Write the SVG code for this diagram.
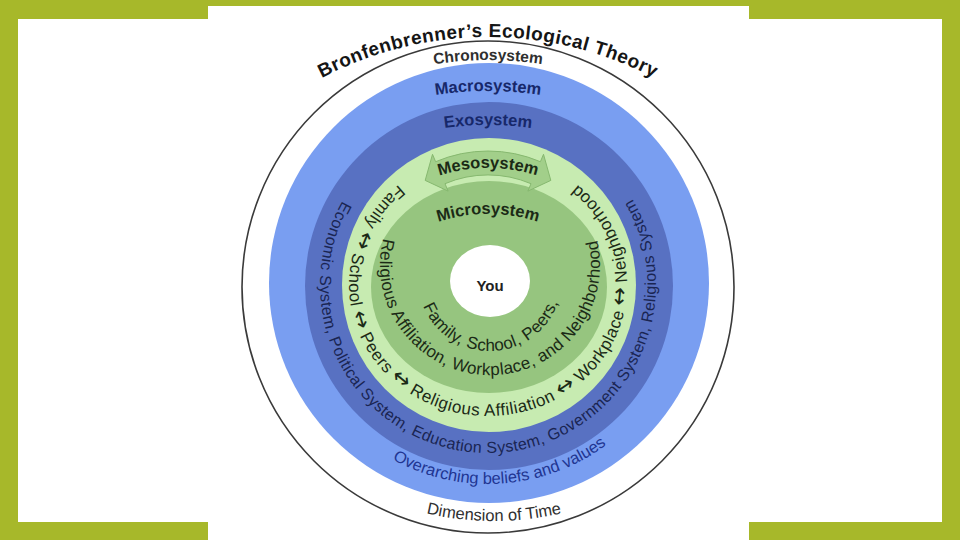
<svg xmlns="http://www.w3.org/2000/svg" xmlns:xlink="http://www.w3.org/1999/xlink" width="960" height="540" viewBox="0 0 960 540">
<style>
  text{font-family:"Liberation Sans",Arial,"DejaVu Sans",sans-serif}
  .title{font-size:19px;font-weight:bold;fill:#151515;letter-spacing:0.5px}
  .lab{font-weight:bold;font-size:16.5px}
  .navy{fill:#17286a}
  .gray{fill:#2f2f2f}
  .dg{fill:#1b2a16}
  .ring{font-size:16px}
  .arr{font-size:22px;font-family:"DejaVu Sans",sans-serif}
</style>
<defs>
  <path id="p-title" d="M 309 85 A 358 358 0 0 1 667 85"/>
  <path id="p-chrono" d="M 313 106.9 A 350 350 0 0 1 663 106.9"/>
  <path id="p-macro" d="M 313 137.9 A 350 350 0 0 1 663 137.9"/>
  <path id="p-exo" d="M 338 165.2 A 300 300 0 0 1 638 165.2"/>
  <path id="p-meso" d="M 408 189.4 A 160 160 0 0 1 568 189.4"/>
  <path id="p-micro" d="M 396.2 242.9 A 160 160 0 0 1 579.8 242.9"/>
  <path id="p-time" d="M 234.2 371 A 300 300 0 0 0 753.8 371"/>
  <path id="p-over" d="M 289 285 A 199 199 0 0 0 687 285"/>
  <path id="p-exoring" d="M 342.5 201 A 168 168 0 1 0 632 198.5"/>
  <path id="p-mesoring" d="M 398.7 184.7 A 139 131 0 1 0 573.6 181.8"/>
  <path id="p-micro1" d="M 383.3 238.4 A 110 110 0 1 0 596.7 238.4"/>
  <path id="p-micro2" d="M 423.2 306 A 72 72 0 0 0 558.5 301.2"/>
</defs>

<rect x="0" y="0" width="960" height="540" fill="#a7b82a"/>
<rect x="18" y="19" width="924" height="503" fill="#ffffff"/>
<rect x="208" y="6" width="541" height="534" fill="#ffffff"/>

<g id="chronosystem">
  <circle cx="488" cy="287" r="246" fill="none" stroke="#3a3a3a" stroke-width="1.6"/>
  <text class="title"><textPath xlink:href="#p-title" href="#p-title" startOffset="50%" text-anchor="middle">Bronfenbrenner’s Ecological Theory</textPath></text>
  <text class="gray" font-size="15.5" font-weight="bold"><textPath href="#p-chrono" xlink:href="#p-chrono" startOffset="50%" text-anchor="middle">Chronosystem</textPath></text>
  <text class="gray" font-size="16.5"><textPath href="#p-time" xlink:href="#p-time" startOffset="50%" text-anchor="middle">Dimension of Time</textPath></text>
</g>

<g id="macrosystem">
  <circle cx="489" cy="283" r="220" fill="#799ef1"/>
  <text class="lab navy"><textPath href="#p-macro" xlink:href="#p-macro" startOffset="50%" text-anchor="middle">Macrosystem</textPath></text>
  <text font-size="16.5" style="fill:#213592"><textPath href="#p-over" xlink:href="#p-over" startOffset="326" text-anchor="middle">Overarching beliefs and values</textPath></text>
</g>

<g id="exosystem">
  <circle cx="489" cy="286" r="184" fill="#5871c2"/>
  <text class="lab navy"><textPath href="#p-exo" xlink:href="#p-exo" startOffset="50%" text-anchor="middle">Exosystem</textPath></text>
  <text class="ring" style="fill:#1a2552" letter-spacing="0.35"><textPath href="#p-exoring" xlink:href="#p-exoring">Economic System, Political System, Education System, Government System, Religious System</textPath></text>
</g>

<g id="mesosystem">
  <circle cx="489" cy="285" r="147" fill="#c7ebb1"/>
  <text class="dg" font-size="17" letter-spacing="0.55"><textPath href="#p-mesoring" xlink:href="#p-mesoring">Family <tspan class="arr">↔</tspan> School <tspan class="arr">↔</tspan> Peers <tspan class="arr">↔</tspan> Religious Affiliation <tspan class="arr">↔</tspan> Workplace <tspan class="arr">↔</tspan> Neighborhood</textPath></text>
</g>

<g id="microsystem">
  <ellipse cx="489" cy="287" rx="118" ry="106" fill="#96c57f"/>
  <text class="lab dg"><textPath href="#p-micro" xlink:href="#p-micro" startOffset="50%" text-anchor="middle">Microsystem</textPath></text>
  <text class="dg" font-size="17" letter-spacing="0.33"><textPath href="#p-micro1" xlink:href="#p-micro1">Religious Affiliation, Workplace, and Neighborhood</textPath></text>
  <text class="dg" font-size="17" letter-spacing="0.27"><textPath href="#p-micro2" xlink:href="#p-micro2">Family, School, Peers,</textPath></text>
</g>

<g id="meso-banner">
  <path d="M 435.6 161.7 A 134 134 0 0 1 540.4 161.7 L 543.5 154.3 L 550.8 180.4 L 527.9 191.1 L 531 183.7 A 110 110 0 0 0 445 183.7 L 448.1 191.1 L 425.2 180.4 L 432.5 154.3 Z" fill="#a2cf8a" stroke="#86b86f" stroke-width="1"/>
  <text class="lab dg"><textPath href="#p-meso" xlink:href="#p-meso" startOffset="50%" text-anchor="middle">Mesosystem</textPath></text>
</g>

<g id="you">
  <ellipse cx="490" cy="281" rx="40" ry="36" fill="#ffffff"/>
  <text x="490" y="291" text-anchor="middle" font-size="15" font-weight="bold" fill="#222">You</text>
</g>
</svg>
